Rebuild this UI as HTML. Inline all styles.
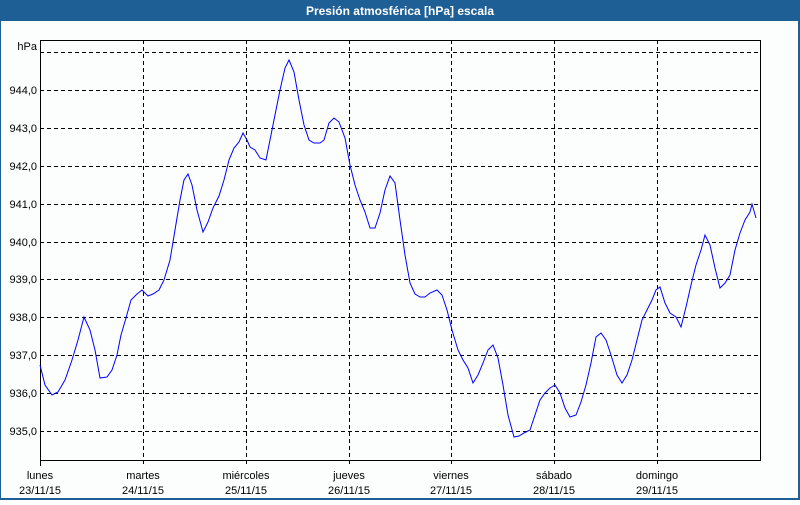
<!DOCTYPE html><html><head><style>body{margin:0;width:800px;height:500px;overflow:hidden;background:#fff;font-family:"Liberation Sans",sans-serif}</style></head><body>
<svg width="800" height="500" xmlns="http://www.w3.org/2000/svg" font-family="Liberation Sans, sans-serif" font-size="11">
<rect x="0" y="0" width="800" height="500" fill="#1e5f95"/>
<rect x="1" y="21" width="797" height="477" fill="#fcfefd"/>
<text x="400" y="15" fill="#fff" font-weight="bold" font-size="12" text-anchor="middle">Presión atmosférica [hPa] escala</text>
<g stroke="#000" stroke-dasharray="4,3" stroke-width="1">
<line x1="40" x2="760" y1="52.5" y2="52.5"/><line x1="40" x2="760" y1="90.5" y2="90.5"/><line x1="40" x2="760" y1="128.5" y2="128.5"/><line x1="40" x2="760" y1="166.5" y2="166.5"/><line x1="40" x2="760" y1="204.5" y2="204.5"/><line x1="40" x2="760" y1="242.5" y2="242.5"/><line x1="40" x2="760" y1="279.5" y2="279.5"/><line x1="40" x2="760" y1="317.5" y2="317.5"/><line x1="40" x2="760" y1="355.5" y2="355.5"/><line x1="40" x2="760" y1="393.5" y2="393.5"/><line x1="40" x2="760" y1="431.5" y2="431.5"/>
<line x1="143.5" x2="143.5" y1="40" y2="466"/><line x1="246.5" x2="246.5" y1="40" y2="466"/><line x1="349.5" x2="349.5" y1="40" y2="466"/><line x1="451.5" x2="451.5" y1="40" y2="466"/><line x1="554.5" x2="554.5" y1="40" y2="466"/><line x1="657.5" x2="657.5" y1="40" y2="466"/>
</g>
<rect x="40.5" y="40.5" width="720" height="420" fill="none" stroke="#000"/>
<line x1="40.5" x2="40.5" y1="460" y2="466" stroke="#000"/>
<g fill="#000" text-anchor="end"><text x="37" y="50">hPa</text><text x="37" y="94">944,0</text><text x="37" y="132">943,0</text><text x="37" y="170">942,0</text><text x="37" y="208">941,0</text><text x="37" y="246">940,0</text><text x="37" y="283">939,0</text><text x="37" y="321">938,0</text><text x="37" y="359">937,0</text><text x="37" y="397">936,0</text><text x="37" y="435">935,0</text></g>
<g fill="#000" text-anchor="middle"><text x="40" y="479">lunes</text><text x="40" y="494">23/11/15</text><text x="143" y="479">martes</text><text x="143" y="494">24/11/15</text><text x="246" y="479">miércoles</text><text x="246" y="494">25/11/15</text><text x="349" y="479">jueves</text><text x="349" y="494">26/11/15</text><text x="451" y="479">viernes</text><text x="451" y="494">27/11/15</text><text x="554" y="479">sábado</text><text x="554" y="494">28/11/15</text><text x="657" y="479">domingo</text><text x="657" y="494">29/11/15</text></g>
<polyline fill="none" stroke="#0000ff" stroke-width="1" points="40,365 45,385 52,395 58,392 65,380 72,360 78,340 84,317 90,330 95,350 100,378 107,377 112,370 117,355 121,335 126,318 131,300 137,294 142,290 148,296 153,294 159,290 164,280 170,260 175,230 180,200 184,180 188,174 192,185 197,210 203,232 208,222 213,208 219,196 224,180 229,160 234,148 239,142 243,133 247,140 250,147 255,150 260,158 266,160 270,140 275,115 280,90 285,68 289,60 294,72 299,100 304,125 309,140 314,143 320,143 324,140 329,123 334,118 339,122 345,138 350,165 355,185 360,200 365,212 370,228 375,228 380,213 385,190 390,176 395,183 400,220 405,255 410,283 415,294 420,297 425,297 430,293 437,290 442,295 447,310 452,330 458,350 463,360 468,368 473,383 478,375 483,363 488,350 493,345 498,358 503,385 508,415 514,437 519,436 524,433 530,430 535,415 540,400 545,393 550,388 555,385 560,393 565,408 570,417 576,415 581,402 586,385 591,363 596,337 601,333 606,340 611,355 617,375 622,383 627,375 632,360 637,340 642,320 647,310 652,300 656,290 660,287 665,303 670,313 676,317 681,327 686,307 691,285 696,265 701,250 705,235 710,245 715,268 720,288 725,283 730,275 735,250 740,233 745,220 750,212 752,204 756,218"/>
</svg></body></html>
